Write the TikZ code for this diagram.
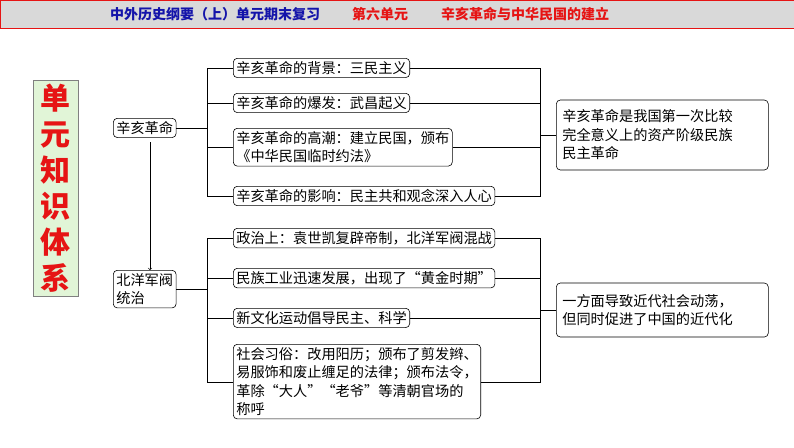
\documentclass[tikz,border=0pt]{standalone}
\usepackage{fontspec}
\newfontfamily\cjk{Noto Sans CJK SC}
\usetikzlibrary{positioning}
\definecolor{navy}{RGB}{20,20,170}
\definecolor{hdred}{RGB}{230,20,20}
\definecolor{boxgreen}{RGB}{225,245,215}
\tikzset{
  item/.style={draw, rounded corners=4pt, line width=0.6pt, anchor=north west, align=left, inner sep=3pt, font=\cjk\fontsize{14.2}{18.5}\selectfont},
  conn/.style={line width=0.6pt}
}
\begin{document}
\begin{tikzpicture}[x=1pt, y=-1pt]
    \useasboundingbox (0,0) rectangle (794,447);
    % header band
    \fill[gray!30] (0,0) rectangle (794,28);
    \draw[hdred, line width=1pt] (0,0) -- (794,0) (0,28) -- (794,28) (0,0) -- (0,28) (794,0) -- (794,28);
    \node[font=\cjk\bfseries\fontsize{14}{16}\selectfont, text=navy] (hd1) at (215,14) {中外历史纲要（上）单元期末复习};
    \node[font=\cjk\bfseries\fontsize{14}{16}\selectfont, text=hdred] (hd2) at (380,14) {第六单元};
    \node[font=\cjk\bfseries\fontsize{14}{16}\selectfont, text=hdred] (hd3) at (525,14) {辛亥革命与中华民国的建立};
    % side title
    \node[draw=gray, fill=boxgreen, minimum width=45pt, minimum height=216pt, align=center, text=hdred, font=\cjk\bfseries\fontsize{30}{36}\selectfont, inner sep=0pt] (side) at (55.5,188) {单\\元\\知\\识\\体\\系};
    % topics
    \node[item] (xh) at (113,118) {辛亥革命};
    \node[item] (by) at (113,270) {北洋军阀\\统治};
    \draw[conn, ->] (150,142) -- (by.north -| 150,0);
    % group one
    \node[item] (a1) at (233,58) {辛亥革命的背景：三民主义};
    \node[item] (a2) at (233,93) {辛亥革命的爆发：武昌起义};
    \node[item] (a3) at (233,128) {辛亥革命的高潮：建立民国，颁布\\《中华民国临时约法》};
    \node[item] (a4) at (233,186) {辛亥革命的影响：民主共和观念深入人心};
    \node[item, text width=200pt, minimum height=70pt, anchor=west, inner sep=6pt] (ra) at (556,135) {辛亥革命是我国第一次比较\\完全意义上的资产阶级民族\\民主革命};
    \draw[conn] (xh.east) -- (207,0 |- xh.east);
    \draw[conn] (a1.west) -| (207,0 |- a4.west) -- (a4.west);
    \foreach \n in {a2,a3} \draw[conn] (\n.west) -- (207,0 |- \n.west);
    \draw[conn] (a1.east) -| (540,0 |- a4.east) -- (a4.east);
    \foreach \n in {a2,a3} \draw[conn] (\n.east) -- (540,0 |- \n.east);
    \draw[conn] (540,0 |- ra.west) -- (ra.west);
    % group two
    \node[item] (b1) at (233,228) {政治上：袁世凯复辟帝制，北洋军阀混战};
    \node[item] (b2) at (233,268) {民族工业迅速发展，出现了“黄金时期”};
    \node[item] (b3) at (233,308) {新文化运动倡导民主、科学};
    \node[item] (b4) at (233,344) {社会习俗：改用阳历；颁布了剪发辫、\\易服饰和废止缠足的法律；颁布法令，\\革除“大人”“老爷”等清朝官场的\\称呼};
    \node[item, text width=200pt, minimum height=54pt, anchor=west, inner sep=6pt] (rb) at (556,310) {一方面导致近代社会动荡，\\但同时促进了中国的近代化};
    \draw[conn] (by.east) -- (207,0 |- by.east);
    \draw[conn] (b1.west) -| (207,382) -- (233,382);
    \foreach \n in {b2,b3} \draw[conn] (\n.west) -- (207,0 |- \n.west);
    \draw[conn] (b1.east) -| (540,382) -- (b4.east |- 0,382);
    \foreach \n in {b2,b3} \draw[conn] (\n.east) -- (540,0 |- \n.east);
    \draw[conn] (540,0 |- rb.west) -- (rb.west);
\end{tikzpicture}
\end{document}
